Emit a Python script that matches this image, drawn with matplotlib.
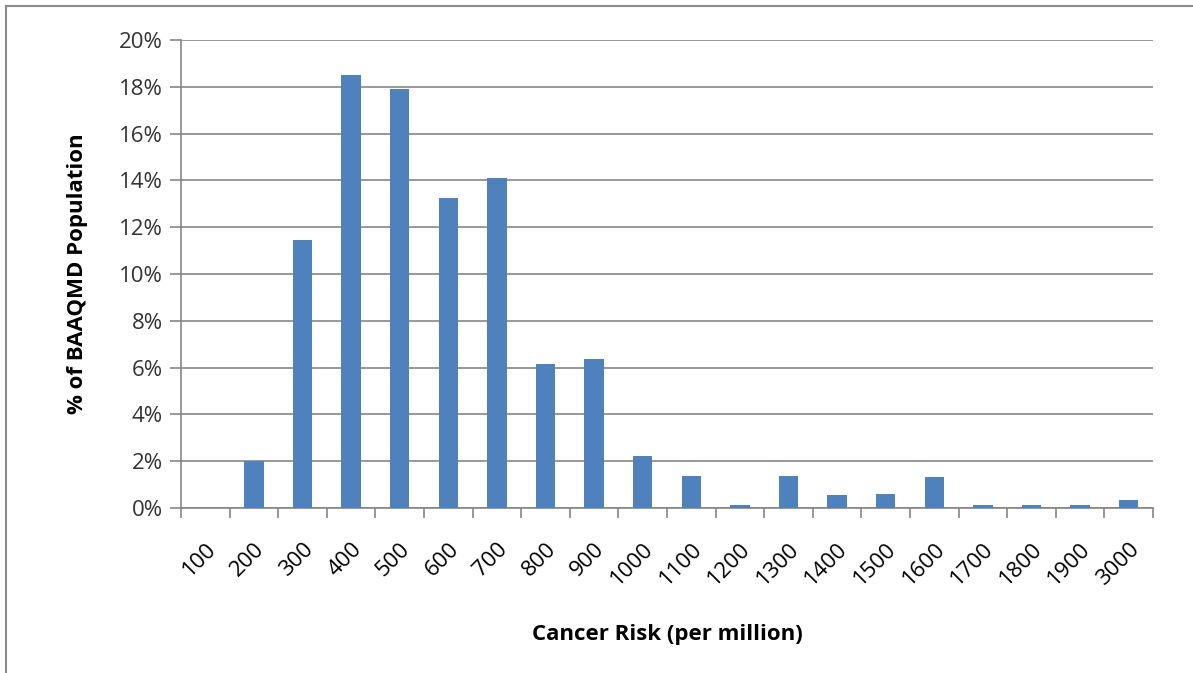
#!/usr/bin/env python3

import numpy as np
import matplotlib.pyplot as plt
from matplotlib.lines import Line2D
from matplotlib.ticker import FuncFormatter

# cancer risk bins and share of population (%)
risk_bins = ["100", "200", "300", "400", "500", "600", "700", "800", "900", "1000",
             "1100", "1200", "1300", "1400", "1500", "1600", "1700", "1800", "1900", "3000"]
pop_share = [0.0, 2.0, 11.45, 18.5, 17.9, 13.25, 14.1, 6.15, 6.37, 2.2,
             1.38, 0.13, 1.38, 0.55, 0.6, 1.33, 0.13, 0.13, 0.13, 0.34]

plt.rcParams['font.family'] = ['Open Sans', 'DejaVu Sans']

fig = plt.figure(figsize=(11.93, 6.73), dpi=100)
ax = fig.add_axes([0.1517, 0.2452, 0.8148, 0.6954])

x = np.arange(len(risk_bins))
ax.bar(x, pop_share, width=0.4, color="#4F81BD", zorder=3)

gray = "#868686"
ax.set_xlim(-0.5, len(risk_bins) - 0.5)
ax.set_ylim(0, 20)
ax.set_yticks(np.arange(0, 21, 2))
ax.yaxis.set_major_formatter(FuncFormatter(lambda v, p: f"{v:.0f}%"))
ax.grid(axis="y", color=gray, linewidth=1.2, zorder=0)

# ticks between categories, labels at centers
ax.set_xticks(np.arange(-0.5, len(risk_bins), 1.0))
ax.set_xticklabels([])
ax.set_xticks(x, minor=True)
ax.set_xticklabels(risk_bins, minor=True, rotation=45, ha="right",
                   rotation_mode="anchor", fontsize=16)
ax.tick_params(axis="x", which="major", length=7, color=gray, width=1.2)
ax.tick_params(axis="x", which="minor", length=0, pad=22)
ax.tick_params(axis="y", length=8, color=gray, width=1.2, labelsize=16,
               labelcolor="#333333", pad=5)

for side in ["top", "right"]:
    ax.spines[side].set_visible(False)
for side in ["left", "bottom"]:
    ax.spines[side].set_color(gray)
    ax.spines[side].set_linewidth(1.2)

ax.set_ylabel("% of BAAQMD Population", fontsize=16, fontweight="bold", labelpad=22)
ax.set_xlabel("Cancer Risk (per million)", fontsize=16, fontweight="bold", labelpad=25)

# outer chart border (left and top only visible)
fig.add_artist(Line2D([6 / 1193, 6 / 1193], [0, 1 - 6 / 673], color="#8c8c8c", linewidth=1.5))
fig.add_artist(Line2D([6 / 1193, 1], [1 - 6 / 673, 1 - 6 / 673], color="#8c8c8c", linewidth=1.5))

plt.savefig("out.png", dpi=100)
